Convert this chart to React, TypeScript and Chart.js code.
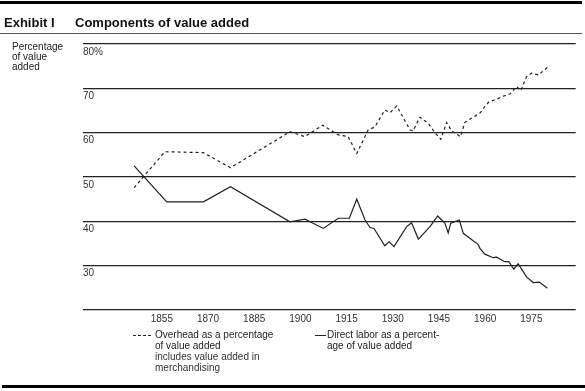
import React, { useEffect, useRef } from "react";
import { Chart, registerables } from "chart.js";

Chart.register(...registerables);

const overheadYears = [1846, 1856, 1868.5, 1877.3, 1896.6, 1901.5, 1907.2, 1912.3, 1915.5, 1918.3, 1922, 1924.2, 1927.4, 1929.1, 1931.3, 1932.9, 1935.6, 1936.6, 1938.8, 1941.5, 1943.7, 1945.6, 1947.5, 1949.1, 1952, 1953.4, 1956.1, 1958.3, 1959.9, 1961.3, 1963.7, 1965.3, 1968, 1970.2, 1971.6, 1973.4, 1975.1, 1977.3, 1980.5];
const overheadValues = [47.6, 55.7, 55.5, 52.1, 60.2, 59.1, 61.7, 59.5, 59.1, 55.3, 60.6, 61.3, 65.1, 64.5, 66, 64, 60.6, 60.4, 63.5, 62.1, 60, 58.5, 62.3, 60.4, 59.1, 62.3, 63.5, 64.4, 65.9, 67, 67.5, 68.1, 68.7, 70.4, 69.5, 72.6, 73.4, 73, 74.9];

const laborYears = [1846, 1856.6, 1868.5, 1877.3, 1896.6, 1901.5, 1907.4, 1912.3, 1915.9, 1918.3, 1921, 1922.6, 1923.9, 1927.4, 1928.8, 1930.4, 1934.5, 1936.1, 1938.3, 1942.1, 1944.6, 1946.9, 1948, 1948.8, 1951.6, 1952.9, 1956.1, 1957.7, 1958.3, 1959.9, 1962.6, 1963.7, 1966.4, 1967.7, 1969.3, 1970.7, 1973.5, 1975.6, 1977.6, 1980.2];
const laborValues = [52.5, 44.4, 44.4, 47.8, 39.9, 40.5, 38.4, 40.7, 40.7, 45, 40.3, 38.6, 38.4, 34.5, 35.4, 34.3, 38.8, 39.7, 36, 38.8, 41.2, 39.6, 37.4, 39.6, 40.3, 37.3, 35.6, 34.8, 33.9, 32.6, 31.8, 31.9, 30.9, 30.9, 29.2, 30.4, 27.4, 26.2, 26.3, 24.9];

const xTickYears = [1855, 1870, 1885, 1900, 1915, 1930, 1945, 1960, 1975];
const yTickValues = [20, 30, 40, 50, 60, 70, 80];

const FONT = '"Liberation Sans", Arial, Helvetica, sans-serif';

export default function App() {
  const ref = useRef<HTMLCanvasElement | null>(null);

  useEffect(() => {
    document.body.style.margin = "0";
    const ctx = ref.current!.getContext("2d")!;
    const chart = new Chart(ctx, {
      type: "line",
      data: {
        datasets: [
          {
            label: "Overhead",
            data: overheadYears.map((x, i) => ({ x, y: overheadValues[i] })),
            borderColor: "#222",
            borderWidth: 1.2,
            borderDash: [3, 3],
            pointRadius: 0,
            tension: 0,
            fill: false,
          },
          {
            label: "Direct labor",
            data: laborYears.map((x, i) => ({ x, y: laborValues[i] })),
            borderColor: "#222",
            borderWidth: 1.2,
            pointRadius: 0,
            tension: 0,
            fill: false,
          },
        ],
      },
      options: {
        animation: false,
        responsive: false,
        maintainAspectRatio: false,
        events: [],
        layout: { padding: { left: 83, right: 9.3, top: 44, bottom: 61 } },
        plugins: { legend: { display: false }, tooltip: { enabled: false } },
        scales: {
          x: {
            type: "linear",
            min: 1829.4,
            max: 1989.4,
            grid: { display: false, drawTicks: false },
            border: { display: false },
            afterBuildTicks: (scale: any) => {
              scale.ticks = xTickYears.map((v) => ({ value: v }));
            },
            afterFit: (scale: any) => {
              scale.height = 20;
            },
            ticks: {
              autoSkip: false,
              maxRotation: 0,
              padding: 3,
              color: "#333",
              font: { family: FONT, size: 10 },
              callback: (v: any) => String(v),
            },
          },
          y: {
            type: "linear",
            min: 20,
            max: 80,
            afterBuildTicks: (scale: any) => {
              scale.ticks = yTickValues.map((v) => ({ value: v }));
            },
            afterFit: (scale: any) => {
              scale.width = 0;
            },
            grid: { color: "#222", lineWidth: 1.3, drawTicks: false },
            border: { display: false },
            ticks: {
              mirror: true,
              padding: 0,
              labelOffset: 8,
              color: "#333",
              font: { family: FONT, size: 10 },
              callback: (v: any) => (v === 80 ? "80%" : v === 20 ? "" : String(v)),
            },
          },
        },
      },
    });
    return () => chart.destroy();
  }, []);

  const abs = (s: React.CSSProperties): React.CSSProperties => ({ position: "absolute", ...s });
  const txt: React.CSSProperties = { fontFamily: FONT, fontSize: 10, lineHeight: "11px", color: "#222", whiteSpace: "nowrap" };

  return (
    <div style={{ position: "relative", width: 585, height: 391, background: "#fff", overflow: "hidden" }}>
      <canvas ref={ref} width={585} height={391} style={{ position: "absolute", left: 0, top: 0, width: 585, height: 391 }} />
      <div style={abs({ left: 0, top: 1, width: 582, height: 3, background: "#000" })} />
      <div style={abs({ left: 4, top: 15, fontFamily: FONT, fontWeight: "bold", fontSize: 13, color: "#111", whiteSpace: "nowrap" })}>Exhibit I</div>
      <div style={abs({ left: 75, top: 15, fontFamily: FONT, fontWeight: "bold", fontSize: 13, color: "#111", whiteSpace: "nowrap" })}>Components of value added</div>
      <div style={abs({ left: 0, top: 33, width: 582, height: 1, background: "#555" })} />
      <div style={abs({ ...txt, left: 12, top: 42, lineHeight: "10px" })}>
        Percentage<br />of value<br />added
      </div>
      <svg style={abs({ left: 133, top: 334, width: 20, height: 3 })} width={20} height={3}>
        <line x1={0} y1={1.5} x2={20} y2={1.5} stroke="#222" strokeWidth={1} strokeDasharray="3 2" />
      </svg>
      <div style={abs({ ...txt, left: 155, top: 329 })}>
        Overhead as a percentage<br />of value added
      </div>
      <div style={abs({ ...txt, left: 155, top: 351, color: "#333" })}>
        includes value added in<br />merchandising
      </div>
      <svg style={abs({ left: 315, top: 334, width: 11, height: 3 })} width={11} height={3}>
        <line x1={0} y1={1.5} x2={11} y2={1.5} stroke="#222" strokeWidth={1} />
      </svg>
      <div style={abs({ ...txt, left: 327, top: 329 })}>
        Direct labor as a percent-<br />age of value added
      </div>
      <div style={abs({ left: 2, top: 385, width: 583, height: 3, background: "#000" })} />
    </div>
  );
}
